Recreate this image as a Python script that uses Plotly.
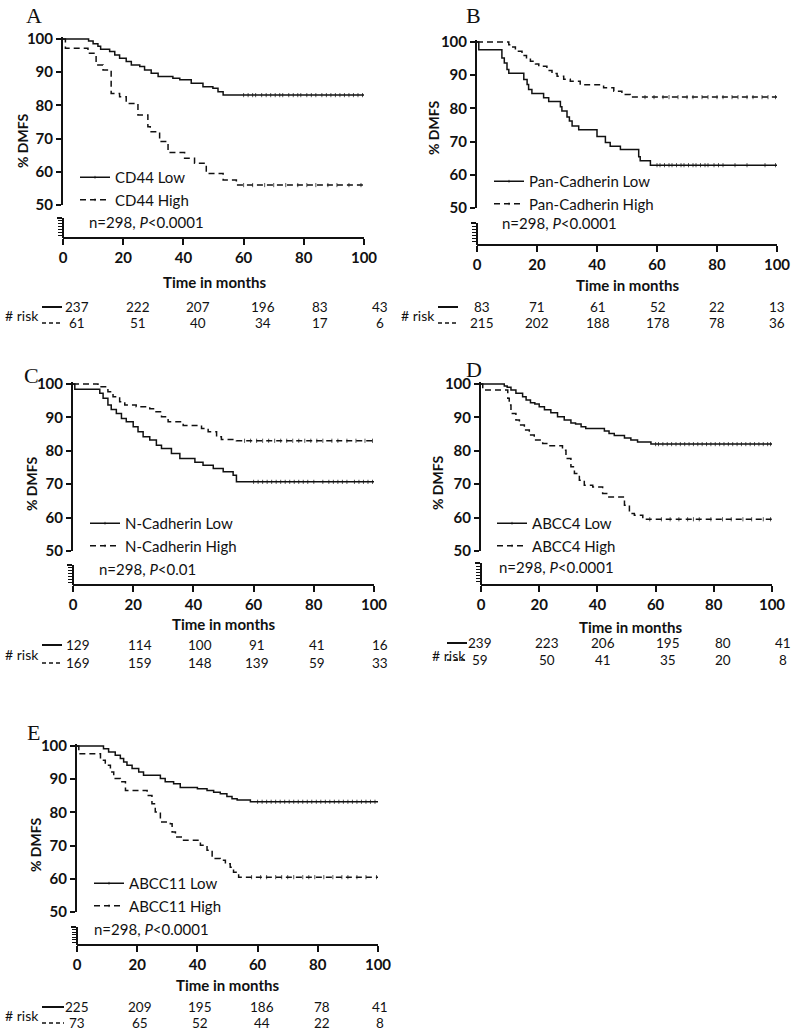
import plotly.graph_objects as go

# ---------------- DATA ----------------
X_TICKS = [0, 20, 40, 60, 80, 100]
Y_TICKS = [50, 60, 70, 80, 90, 100]

# Panel A: CD44
CD44_LOW_T = [8.5, 10, 11.6, 12.5, 15.5, 17.2, 18.8, 21, 22.7, 25.5, 27.1, 29.3, 31.6, 36.5, 38.8, 42.6, 46.5, 49.8, 51.5, 53.2]
CD44_LOW_S = [99.4, 98.6, 97.8, 96.9, 96.2, 95.2, 94.2, 93.2, 92.2, 91.7, 90.7, 89.7, 88.7, 88.2, 87.7, 86.7, 85.6, 85.2, 84.1, 83.1]
CD44_LOW_C = [60, 61.5, 63, 64, 66, 67.5, 69, 70.5, 72, 73, 75, 76.5, 78, 79, 81, 82.5, 84, 86, 87.5, 89, 90.5, 92, 93.5, 95, 96.5, 98, 99.5]
CD44_HIGH_T = [0.8, 8.3, 11, 13.3, 16, 18.8, 21, 24.9, 28.2, 29, 32.1, 34.9, 40.4, 43.7, 47.6, 53.2, 57.6]
CD44_HIGH_S = [97.2, 95.7, 92.2, 90.7, 83.6, 82.6, 80.6, 77.1, 73.6, 72.1, 69.1, 65.8, 64.1, 62.6, 59.5, 57.5, 56.0]
CD44_HIGH_C = [60, 63, 67, 70, 74, 78, 81, 84, 88, 91, 95, 99]

# Panel B: Pan-Cadherin
PAN_LOW_T = [0.6, 8.3, 9.1, 10, 10.6, 15.6, 16.7, 17.2, 18.3, 22.2, 23.9, 27.8, 28.3, 30, 30.8, 31.7, 33.9, 40, 42.8, 44.4, 47.8, 53.9, 54.4, 57.8]
PAN_LOW_S = [97.7, 95.2, 93.7, 91.7, 90.6, 88.7, 87.2, 85.7, 84.5, 83.2, 82.1, 80.5, 79.2, 77.4, 76.2, 74.7, 73.6, 71.5, 69.7, 68.6, 67.6, 65.4, 64.2, 62.9]
PAN_LOW_C = [60, 61, 62.5, 64, 65, 66.5, 68, 69, 70.5, 72, 73, 74.5, 76, 77, 79, 80.5, 82, 86, 90, 96, 99.5]
PAN_HIGH_T = [10.6, 11.5, 12.8, 15, 16.5, 17.8, 19.5, 20.6, 23.3, 25, 26.7, 28.9, 31.1, 34.4, 42.2, 45.6, 48.3, 51.1]
PAN_HIGH_S = [99.2, 98.5, 97.2, 95.9, 95.0, 94.2, 93.4, 92.7, 91.4, 90.5, 89.7, 88.8, 88.2, 87.1, 86.2, 85.2, 84.2, 83.4]
PAN_HIGH_C = [56, 59, 62, 64, 67, 70, 72, 75, 77, 80, 82, 85, 87, 90, 92, 95, 97, 99.5]

# Panel C: N-Cadherin
NCAD_LOW_T = [0.6, 8.9, 10, 11.6, 12.7, 14.4, 16.1, 17.7, 20, 21.6, 23.3, 25.5, 27.7, 29.4, 32.7, 35.5, 40.5, 43.2, 46.6, 49.9, 53.2, 54.3]
NCAD_LOW_S = [98.4, 97.2, 95.7, 93.7, 92.4, 91.2, 89.7, 88.7, 87.2, 85.7, 84.2, 83.2, 81.7, 80.7, 79.2, 77.7, 76.6, 75.7, 74.7, 73.7, 72.7, 70.7]
NCAD_LOW_C = [60, 61.5, 63, 64.5, 66, 67.5, 69, 70.5, 72, 73.5, 75, 76.5, 78, 80, 83, 85, 86.5, 88, 89.5, 91, 93.5, 95, 96.5, 98, 99.5]
NCAD_HIGH_T = [8.3, 11.6, 13.3, 15.5, 17.2, 21, 25.5, 27.2, 29.4, 31.6, 36.6, 42.7, 44.9, 47.7, 49.3, 54.3]
NCAD_HIGH_S = [99.2, 97.7, 96.2, 94.7, 93.7, 93.2, 92.6, 91.7, 90.2, 88.7, 87.6, 86.7, 85.7, 84.2, 83.4, 83.0]
NCAD_HIGH_C = [57, 59, 61, 63, 65, 67, 69, 71, 73, 75, 77, 79, 81, 83, 86, 88, 91, 94, 97, 99.5]

# Panel D: ABCC4
ABCC4_LOW_T = [8, 9, 10.3, 12, 14.3, 15.5, 17, 18.5, 20, 21.8, 24, 26.3, 28.6, 30.9, 32.5, 34.4, 36, 42.4, 44, 45.8, 49.3, 51.5, 53.8, 58.4]
ABCC4_LOW_S = [99.4, 99.0, 98.2, 97.2, 96.2, 95.2, 94.4, 94.0, 93.2, 92.3, 91.4, 90.2, 89.2, 88.3, 88.0, 87.2, 86.7, 85.9, 85.2, 84.6, 83.8, 83.2, 82.6, 82.0]
ABCC4_LOW_C = [60, 61, 62.5, 64, 65.5, 67, 68.5, 70, 71.5, 73, 74.5, 76, 77.5, 79, 80.5, 82, 83.5, 85, 86.5, 88, 89.5, 91, 92.5, 94, 95.5, 97, 98.5, 99.5]
ABCC4_HIGH_T = [0.6, 9.2, 9.7, 10.3, 12, 13.2, 14.9, 16.6, 18.3, 21.2, 22.9, 28, 29.2, 30.9, 32.1, 33.8, 35.5, 38.4, 41.8, 43.5, 49.3, 51, 52.7, 55.6]
ABCC4_HIGH_S = [98.2, 95.7, 93.7, 91.2, 89.2, 87.7, 86.2, 84.7, 83.2, 82.2, 81.5, 80.2, 77.7, 75.2, 73.2, 71.2, 69.7, 69.2, 67.2, 66.2, 63.7, 61.2, 60.7, 59.5]
ABCC4_HIGH_C = [58, 62, 65, 68, 71, 73, 75, 79, 83, 86, 90, 93, 97, 99.5]

# Panel E: ABCC11
ABCC11_LOW_T = [8.8, 10.5, 12.7, 14.4, 15.5, 16.6, 18.3, 20.5, 22.1, 27.7, 29.3, 32.1, 34.3, 40, 43.2, 45.4, 47.6, 49.8, 51.5, 53.2, 57.6]
ABCC11_LOW_S = [99.2, 98.2, 97.2, 96.2, 95.2, 94.2, 93.2, 92.2, 91.2, 90.2, 89.2, 88.6, 87.5, 87.1, 86.6, 86.1, 85.6, 84.8, 84.1, 83.7, 83.2]
ABCC11_LOW_C = [60, 61.5, 63, 64.5, 66, 67.5, 69, 70.5, 72, 73.5, 75, 76.5, 78, 79.5, 81, 82.5, 84, 85.5, 87, 88.5, 90, 91.5, 93, 94.5, 96, 97.5, 99]
ABCC11_HIGH_T = [0.6, 7.8, 9.4, 11.1, 12.2, 14.4, 16.1, 23.3, 24.9, 26, 27.7, 31, 31.6, 32.7, 35.4, 41, 43.2, 44.9, 47.6, 49.3, 50.9, 52, 53.7]
ABCC11_HIGH_S = [97.7, 95.7, 94.2, 92.2, 90.2, 89.2, 86.6, 85.1, 82.6, 80.1, 77.1, 76.6, 74.1, 72.6, 71.6, 70.1, 68.6, 66.1, 65.6, 64.5, 63.5, 62.0, 60.5]
ABCC11_HIGH_C = [58, 61, 63, 66, 68, 70, 72, 75, 77, 79, 82, 85, 88, 90, 93, 96, 99.5]

# Numbers at risk
RISK_A_LOW = [237, 222, 207, 196, 83, 43]
RISK_A_HIGH = [61, 51, 40, 34, 17, 6]
RISK_B_LOW = [83, 71, 61, 52, 22, 13]
RISK_B_HIGH = [215, 202, 188, 178, 78, 36]
RISK_C_LOW = [129, 114, 100, 91, 41, 16]
RISK_C_HIGH = [169, 159, 148, 139, 59, 33]
RISK_D_LOW = [239, 223, 206, 195, 80, 41]
RISK_D_HIGH = [59, 50, 41, 35, 20, 8]
RISK_E_LOW = [225, 209, 195, 186, 78, 41]
RISK_E_HIGH = [73, 65, 52, 44, 22, 8]

PANEL_LETTERS = ["A", "B", "C", "D", "E"]
SERIES_NAMES = [("CD44 Low", "CD44 High"),
                ("Pan-Cadherin Low", "Pan-Cadherin High"),
                ("N-Cadherin Low", "N-Cadherin High"),
                ("ABCC4 Low", "ABCC4 High"),
                ("ABCC11 Low", "ABCC11 High")]
STAT_TEXT = ["n=298, <i>P</i>&lt;0.0001", "n=298, <i>P</i>&lt;0.0001", "n=298, <i>P</i>&lt;0.01",
             "n=298, <i>P</i>&lt;0.0001", "n=298, <i>P</i>&lt;0.0001"]
X_TITLE = "Time in months"
Y_TITLE = "% DMFS"
RISK_LABEL = "# risk"

LOW_DATA = [(CD44_LOW_T, CD44_LOW_S, CD44_LOW_C), (PAN_LOW_T, PAN_LOW_S, PAN_LOW_C),
            (NCAD_LOW_T, NCAD_LOW_S, NCAD_LOW_C), (ABCC4_LOW_T, ABCC4_LOW_S, ABCC4_LOW_C),
            (ABCC11_LOW_T, ABCC11_LOW_S, ABCC11_LOW_C)]
HIGH_DATA = [(CD44_HIGH_T, CD44_HIGH_S, CD44_HIGH_C), (PAN_HIGH_T, PAN_HIGH_S, PAN_HIGH_C),
             (NCAD_HIGH_T, NCAD_HIGH_S, NCAD_HIGH_C), (ABCC4_HIGH_T, ABCC4_HIGH_S, ABCC4_HIGH_C),
             (ABCC11_HIGH_T, ABCC11_HIGH_S, ABCC11_HIGH_C)]
RISK_LOW = [RISK_A_LOW, RISK_B_LOW, RISK_C_LOW, RISK_D_LOW, RISK_E_LOW]
RISK_HIGH = [RISK_A_HIGH, RISK_B_HIGH, RISK_C_HIGH, RISK_D_HIGH, RISK_E_HIGH]

# ---------------- LAYOUT (pixel geometry) ----------------
W, H = 796, 1032
def px(x):
    return x / W
def py(y):
    return 1 - y / H

GEOM = [
    dict(x0=63, x1=364, y100=39, y50=205, stub=218, xax=238,
         letter=(34, 15), ytitle=(22, 141), xtitle=(214, 282),
         leg=(113, 176), stat=(87, 222),
         risk_cols=[77, 138, 198, 263, 320, 380], risk_rows=(307, 323), risk_lab=(3, 315), risk_line=(42, 62)),
    dict(x0=477, x1=777, y100=42, y50=208, stub=223, xax=245,
         letter=(473, 15), ytitle=(433, 128), xtitle=(627, 285),
         leg=(527, 180), stat=(500, 223),
         risk_cols=[482, 537, 598, 658, 717, 777], risk_rows=(307, 323), risk_lab=(399, 315), risk_line=(438, 458)),
    dict(x0=73, x1=374, y100=384, y50=551, stub=565, xax=585,
         letter=(31, 375), ytitle=(32, 484), xtitle=(223, 624),
         leg=(123, 522), stat=(97, 569),
         risk_cols=[78, 140, 200, 257, 317, 380], risk_rows=(645, 663), risk_lab=(3, 654), risk_line=(42, 62)),
    dict(x0=481, x1=772, y100=384, y50=551, stub=563, xax=585,
         letter=(474, 370), ytitle=(438, 483), xtitle=(630, 627),
         leg=(530, 522), stat=(497, 567),
         risk_cols=[480, 547, 603, 668, 723, 783], risk_rows=(643, 660), risk_lab=(430, 655), risk_line=(447, 467)),
    dict(x0=77, x1=378, y100=746, y50=912, stub=927, xax=945,
         letter=(33, 732), ytitle=(35, 845), xtitle=(227, 985),
         leg=(127, 882), stat=(92, 929),
         risk_cols=[77, 140, 200, 262, 322, 380], risk_rows=(1007, 1023), risk_lab=(3, 1015), risk_line=(42, 64)),
]

SANS = "Lato"
SERIF = "Liberation Serif"
BLACK = "#111111"
YTOP = 100.6


def km_points(t, s, c):
    times = [0.0] + list(t)
    surv = [100.0] + list(s)
    sizes = [0] * len(times)
    for ct in c:
        lvl = 100.0
        for tt, ss in zip(t, s):
            if tt <= ct:
                lvl = ss
        times.append(ct)
        surv.append(lvl)
        sizes.append(3)
    times.append(100.0)
    surv.append(s[-1])
    sizes.append(0)
    order = sorted(range(len(times)), key=lambda i: times[i])
    return [times[i] for i in order], [surv[i] for i in order], [sizes[i] for i in order]


fig = go.Figure()
annotations = []
shapes = []
layout = {}

for k in range(5):
    g = GEOM[k]
    n = k + 1
    xa = f"x{n}"
    ya = f"y{n}"
    ys = f"y{n + 5}"
    ppu = (g["y50"] - g["y100"]) / 50.0
    top_px = g["y100"] - (YTOP - 100) * ppu

    layout[f"xaxis{n}"] = dict(
        domain=[px(g["x0"]), px(g["x1"])], anchor="free", position=py(g["xax"]), range=[0, 100],
        tickmode="array", tickvals=X_TICKS, ticks="outside", ticklen=6, tickwidth=2,
        tickcolor=BLACK, showline=True, linewidth=2, linecolor=BLACK,
        showgrid=False, zeroline=False, automargin=False,
        tickfont=dict(family=SANS, size=15, color=BLACK, weight="bold"), fixedrange=True)
    layout[f"yaxis{n}"] = dict(
        domain=[py(g["y50"]), py(top_px)], anchor=xa, range=[50, YTOP],
        tickmode="array", tickvals=Y_TICKS, ticks="outside", ticklen=5, tickwidth=2,
        tickcolor=BLACK, showline=True, linewidth=2, linecolor=BLACK,
        showgrid=False, zeroline=False, automargin=False,
        tickfont=dict(family=SANS, size=15, color=BLACK, weight="bold"), fixedrange=True)
    layout[f"yaxis{n + 5}"] = dict(
        domain=[py(g["xax"]), py(g["stub"])], anchor="free", position=px(g["x0"]), range=[0, 7],
        tickmode="array", tickvals=[7], ticks="outside", ticklen=5, tickwidth=2,
        tickcolor=BLACK, showline=True, linewidth=2, linecolor=BLACK,
        showticklabels=False, showgrid=False, zeroline=False, automargin=False,
        minor=dict(tickmode="array", tickvals=[1, 2, 3, 4, 5, 6], ticks="outside",
                   ticklen=4, tickwidth=1, tickcolor=BLACK),
        fixedrange=True)

    # empty trace so that the axis-break stub subplot exists
    fig.add_trace(go.Scatter(x=[None], y=[None], xaxis=xa, yaxis=ys, showlegend=False,
                             hoverinfo="skip", mode="lines"))

    leg_name = "legend" if n == 1 else f"legend{n}"
    for (t, s, c), name, dash in [(LOW_DATA[k], SERIES_NAMES[k][0], "solid"),
                                  (HIGH_DATA[k], SERIES_NAMES[k][1], "6px,4px")]:
        tx, sy, sz = km_points(t, s, c)
        fig.add_trace(go.Scatter(
            x=tx, y=sy, mode="lines+markers", name=name, xaxis=xa, yaxis=ya,
            line=dict(color=BLACK, width=1.5, shape="hv", dash=dash),
            marker=dict(symbol="line-ns", size=sz, color=BLACK, line=dict(color=BLACK, width=1)),
            legend=leg_name, hoverinfo="skip"))

    layout[leg_name] = dict(
        x=px(g["leg"][0] - 38), y=py(g["leg"][1] - 15), xanchor="left", yanchor="top",
        bgcolor="rgba(0,0,0,0)", borderwidth=0,
        font=dict(family=SANS, size=15, color=BLACK), tracegroupgap=0, itemwidth=30)

    # texts
    annotations.append(dict(text=PANEL_LETTERS[k], x=px(g["letter"][0]), y=py(g["letter"][1]),
                            xref="paper", yref="paper", showarrow=False, xanchor="center", yanchor="middle",
                            font=dict(family=SERIF, size=22, color=BLACK)))
    annotations.append(dict(text=Y_TITLE, x=px(g["ytitle"][0]), y=py(g["ytitle"][1]), textangle=-90,
                            xref="paper", yref="paper", showarrow=False, xanchor="center", yanchor="middle",
                            font=dict(family=SANS, size=14, color=BLACK, weight="bold")))
    annotations.append(dict(text=X_TITLE, x=px(g["xtitle"][0]), y=py(g["xtitle"][1]),
                            xref="paper", yref="paper", showarrow=False, xanchor="center", yanchor="middle",
                            font=dict(family=SANS, size=15, color=BLACK, weight="bold")))
    annotations.append(dict(text=STAT_TEXT[k], x=px(g["stat"][0]), y=py(g["stat"][1]),
                            xref="paper", yref="paper", showarrow=False, xanchor="left", yanchor="middle",
                            font=dict(family=SANS, size=15, color=BLACK)))
    annotations.append(dict(text=RISK_LABEL, x=px(g["risk_lab"][0]), y=py(g["risk_lab"][1]),
                            xref="paper", yref="paper", showarrow=False, xanchor="left", yanchor="middle",
                            font=dict(family=SANS, size=14, color=BLACK)))
    for row_vals, ry in [(RISK_LOW[k], g["risk_rows"][0]), (RISK_HIGH[k], g["risk_rows"][1])]:
        for v, cx in zip(row_vals, g["risk_cols"]):
            annotations.append(dict(text=str(v), x=px(cx), y=py(ry), xref="paper", yref="paper",
                                    showarrow=False, xanchor="center", yanchor="middle",
                                    font=dict(family=SANS, size=13.5, color=BLACK)))
    lx0, lx1 = g["risk_line"]
    shapes.append(dict(type="line", xref="paper", yref="paper", x0=px(lx0), x1=px(lx1),
                       y0=py(g["risk_rows"][0]), y1=py(g["risk_rows"][0]),
                       line=dict(color=BLACK, width=2)))
    shapes.append(dict(type="line", xref="paper", yref="paper", x0=px(lx0), x1=px(lx1),
                       y0=py(g["risk_rows"][1]), y1=py(g["risk_rows"][1]),
                       line=dict(color=BLACK, width=1.5, dash="4px,3px")))

fig.update_layout(
    width=W, height=H, margin=dict(l=0, r=0, t=0, b=0, pad=0, autoexpand=False),
    paper_bgcolor="white", plot_bgcolor="white",
    showlegend=True, annotations=annotations, shapes=shapes,
    **layout)

# the page body has a default 8px margin; remove it so the 796x1032 figure fills the window
PAGE_FIX = ("document.body.style.margin='0px';document.body.style.padding='0px';"
            "document.documentElement.style.overflow='hidden';")
fig.write_html("out.html", config=dict(displayModeBar=False), post_script=PAGE_FIX)
